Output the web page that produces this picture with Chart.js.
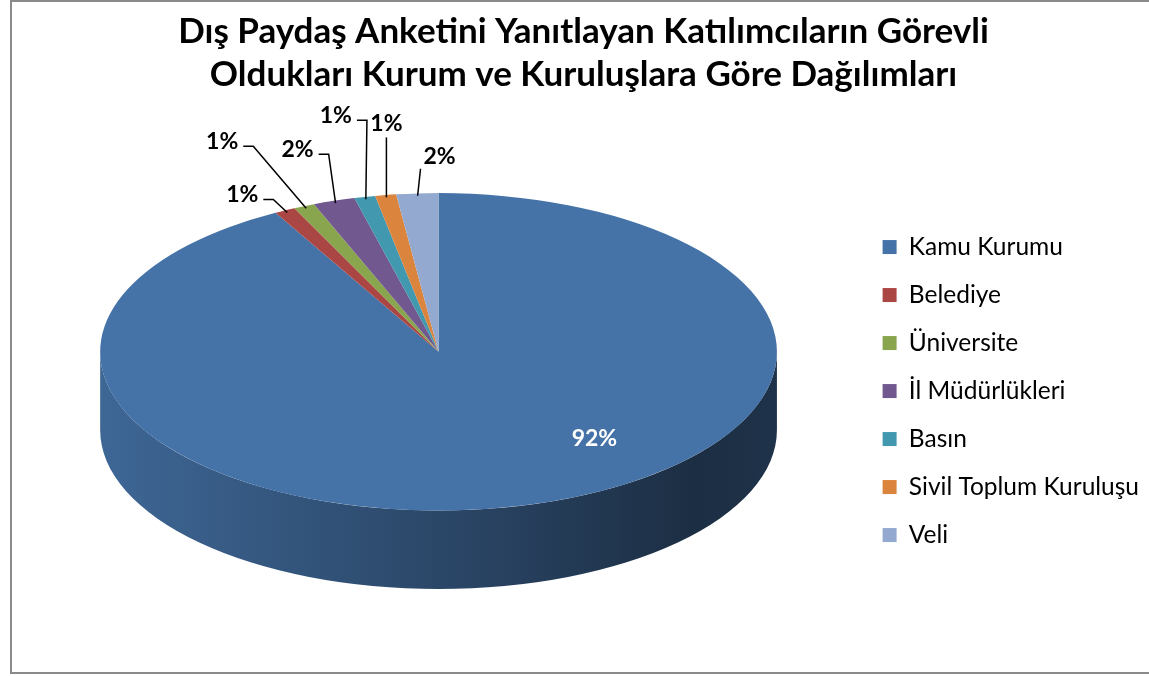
<!DOCTYPE html>
<html>
<head>
<meta charset="utf-8">
<script src="https://cdn.jsdelivr.net/npm/chart.js@4"></script>
<style>
  html, body { margin: 0; padding: 0; background: #fff; overflow: hidden; }
  #frame {
    position: absolute; left: 10px; top: 0; width: 1160px; height: 670px;
    border: 2px solid #8a8a8a;
  }
  #chart { position: absolute; left: 0; top: 0; }
</style>
</head>
<body>
<div id="frame"></div>
<canvas id="chart" width="1149" height="676"></canvas>
<script>
// title lines
const titleLines = [
  'Dış Paydaş Anketini Yanıtlayan Katılımcıların Görevli',
  'Oldukları Kurum ve Kuruluşlara Göre Dağılımları'
];

// categories and their shares (percent)
const categories = ['Kamu Kurumu', 'Belediye', 'Üniversite', 'İl Müdürlükleri', 'Basın', 'Sivil Toplum Kuruluşu', 'Veli'];
const shares = [92, 1, 1, 2, 1, 1, 2];

// slice colours (Office 2007 palette)
const sliceColors = ['#4572a7', '#aa4643', '#89a54e', '#71588f', '#4198af', '#db843d', '#93a9cf'];

// where each percent label sits, relative to the rim point of its slice
const labelPlacement = [
  { dx: 73, dy: -65, color: '#ffffff', leader: null },
  { dx: -45, dy: -18, color: '#000000', leader: 'side' },
  { dx: -84, dy: -67, color: '#000000', leader: 'side' },
  { dx: -38, dy: -54, color: '#000000', leader: 'side' },
  { dx: -30, dy: -84, color: '#000000', leader: 'side' },
  { dx: 0, dy: -74, color: '#000000', leader: 'below' },
  { dx: 22, dy: -39, color: '#000000', leader: 'belowLeft' }
];

// multiply an rgb hex colour by a factor
function shade(hex, f) {
  const n = parseInt(hex.slice(1), 16);
  const r = Math.round(((n >> 16) & 255) * f);
  const g = Math.round(((n >> 8) & 255) * f);
  const b = Math.round((n & 255) * f);
  return 'rgb(' + r + ',' + g + ',' + b + ')';
}

// ellipse geometry for the tilted pie, worked out from the chart area
function pieGeometry(chart, opts) {
  const area = chart.chartArea;
  const h = area.bottom - area.top;
  const rx = h / (2 * opts.tilt + opts.depthRatio);
  const ry = rx * opts.tilt;
  return {
    cx: (area.left + area.right) / 2,
    cy: area.top + ry,
    rx: rx,
    ry: ry,
    depth: rx * opts.depthRatio
  };
}

// draws the side wall, squashes the pie into an ellipse and adds labels
const tiltedPie = {
  id: 'tiltedPie',
  beforeDatasetsDraw(chart, args, opts) {
    const ctx = chart.ctx;
    const g = pieGeometry(chart, opts);
    const arcs = chart.getDatasetMeta(0).data;
    const colors = chart.data.datasets[0].backgroundColor;

    // front wall: only the part of each slice between 0 and PI is visible
    arcs.forEach((arc, i) => {
      for (const shift of [0, 2 * Math.PI]) {
        const a1 = Math.max(arc.startAngle - shift, 0);
        const a2 = Math.min(arc.endAngle - shift, Math.PI);
        if (a2 <= a1) continue;
        const grad = ctx.createLinearGradient(g.cx - g.rx, 0, g.cx + g.rx, 0);
        grad.addColorStop(0, shade(colors[i], 0.9));
        grad.addColorStop(0.5, shade(colors[i], 0.62));
        grad.addColorStop(0.88, shade(colors[i], 0.4));
        grad.addColorStop(1, shade(colors[i], 0.44));
        ctx.save();
        ctx.beginPath();
        ctx.ellipse(g.cx, g.cy, g.rx, g.ry, 0, a1, a2, false);
        ctx.ellipse(g.cx, g.cy + g.depth, g.rx, g.ry, 0, a2, a1, true);
        ctx.closePath();
        ctx.fillStyle = grad;
        ctx.fill();
        ctx.restore();
      }
    });

    // squash the round pie into the top face
    const a0 = arcs[0];
    ctx.save();
    ctx.translate(g.cx, g.cy);
    ctx.scale(g.rx / a0.outerRadius, g.ry / a0.outerRadius);
    ctx.translate(-a0.x, -a0.y);
  },
  afterDatasetsDraw(chart, args, opts) {
    const ctx = chart.ctx;
    ctx.restore();

    const g = pieGeometry(chart, opts);
    const arcs = chart.getDatasetMeta(0).data;
    const values = chart.data.datasets[0].data;
    const total = values.reduce((a, b) => a + b, 0);

    ctx.save();
    ctx.font = 'bold 23px Lato';
    ctx.textAlign = 'center';
    ctx.textBaseline = 'middle';
    ctx.lineWidth = 1.5;
    ctx.strokeStyle = '#000';
    arcs.forEach((arc, i) => {
      const p = opts.placement[i];
      const mid = (arc.startAngle + arc.endAngle) / 2;
      const ax = g.cx + g.rx * 0.985 * Math.cos(mid);
      const ay = g.cy + g.ry * 0.985 * Math.sin(mid);
      const tx = ax + p.dx;
      const ty = ay + p.dy;
      const text = Math.round(values[i] / total * 100) + '%';
      const w = ctx.measureText(text).width;

      if (p.leader) {
        ctx.beginPath();
        if (p.leader === 'side') {
          const xr = tx + w / 2;
          ctx.moveTo(xr + 5, ty + 5);
          ctx.lineTo(xr + 15, ty + 5);
        } else if (p.leader === 'below') {
          ctx.moveTo(tx, ty + 14);
        } else {
          ctx.moveTo(tx - w / 2 - 3, ty + 12);
        }
        ctx.lineTo(ax, ay);
        ctx.stroke();
      }
      ctx.fillStyle = p.color;
      ctx.fillText(text, tx, ty);
    });
    ctx.restore();
  }
};

new Chart(document.getElementById('chart'), {
  type: 'pie',
  data: {
    labels: categories,
    datasets: [{
      data: shares,
      backgroundColor: sliceColors,
      borderWidth: 0,
      clip: false
    }]
  },
  options: {
    responsive: false,
    animation: false,
    events: [],
    layout: {
      padding: { left: 18, right: 0, top: 0, bottom: 87 }
    },
    plugins: {
      title: {
        display: true,
        text: titleLines,
        color: '#000',
        font: { family: 'Lato', size: 35, weight: 'bold', lineHeight: 1.23 },
        padding: { top: 10, bottom: 97 }
      },
      legend: {
        position: 'right',
        fullSize: false,
        labels: {
          boxWidth: 14,
          boxHeight: 14,
          padding: 23.5,
          color: '#000',
          font: { family: 'Lato', size: 24.5 }
        }
      },
      tooltip: { enabled: false },
      tiltedPie: {
        tilt: 0.469,
        depthRatio: 0.232,
        placement: labelPlacement
      }
    }
  },
  plugins: [tiltedPie]
});
</script>
</body>
</html>
